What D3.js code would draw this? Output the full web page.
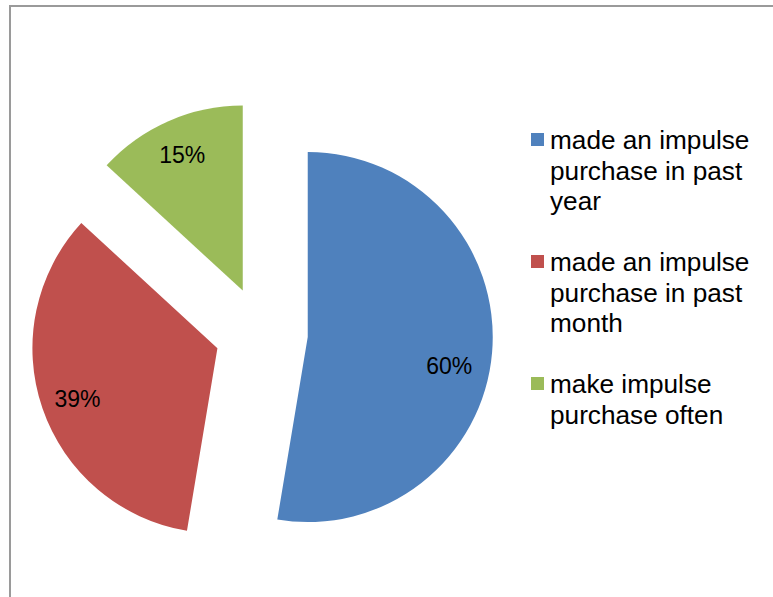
<!DOCTYPE html>
<html>
<head>
<meta charset="utf-8">
<script src="https://cdn.jsdelivr.net/npm/d3@7"></script>
<style>
html,body{margin:0;padding:0;background:#fff;}
svg{display:block;}
</style>
</head>
<body>
<svg id="chart" width="773" height="597"></svg>
<script>
// ---- data ----
const categories = [
  "made an impulse purchase in past year",
  "made an impulse purchase in past month",
  "make impulse purchase often"
];
const values = [60, 39, 15];
const valueLabels = ["60%", "39%", "15%"];
const colors = ["#4F81BD", "#C0504D", "#9BBB59"];

// ---- layout ----
const W = 773, H = 597;
const cx = 261.4, cy = 333.2, R = 185, explode = 46.5;
const labelR = 148;
const labelNudge = [[-6, 17], [0, 3], [-1, 0]];
const fontLegend = "Liberation Sans, Arial, sans-serif";
const fontLabel = "Liberation Sans, Arial, sans-serif";

const svg = d3.select("#chart");

// frame
svg.append("rect")
  .attr("x", 10).attr("y", 6)
  .attr("width", 800).attr("height", 700)
  .attr("fill", "none")
  .attr("stroke", "#9a9a9a")
  .attr("stroke-width", 2);

const pie = d3.pie().sort(null).value(d => d)(values);
const arc = d3.arc().innerRadius(0).outerRadius(R);

const g = svg.append("g").attr("transform", `translate(${cx},${cy})`);

pie.forEach((p, i) => {
  const mid = (p.startAngle + p.endAngle) / 2;
  const ox = explode * Math.sin(mid), oy = -explode * Math.cos(mid);
  const sg = g.append("g").attr("transform", `translate(${ox},${oy})`);
  sg.append("path").attr("d", arc(p)).attr("fill", colors[i]);
  const lx = labelR * Math.sin(mid) + labelNudge[i][0];
  const ly = -labelR * Math.cos(mid) + labelNudge[i][1];
  sg.append("text")
    .attr("x", lx).attr("y", ly)
    .attr("text-anchor", "middle")
    .attr("dominant-baseline", "central")
    .attr("font-family", fontLabel)
    .attr("font-size", 23)
    .attr("fill", "#000")
    .text(valueLabels[i]);
});

// legend
const legX = 531, textX = 550, firstBase = 149, lineH = 30.5, maxW = 218;
const leg = svg.append("g");
let base = firstBase;
categories.forEach((name, i) => {
  leg.append("rect")
    .attr("x", legX).attr("y", base - 16)
    .attr("width", 13).attr("height", 13)
    .attr("fill", colors[i]);
  const t = leg.append("text")
    .attr("font-family", fontLegend)
    .attr("font-size", 26.2)
    .attr("fill", "#000");
  const words = name.split(" ");
  let line = [];
  let lines = [];
  let ts = t.append("tspan").attr("x", textX).attr("y", base);
  words.forEach(w => {
    line.push(w);
    ts.text(line.join(" "));
    if (ts.node().getComputedTextLength() > maxW && line.length > 1) {
      line.pop();
      ts.text(line.join(" "));
      lines.push(ts);
      line = [w];
      ts = t.append("tspan").attr("x", textX).attr("y", base + lines.length * lineH).text(w);
    }
  });
  lines.push(ts);
  base += (lines.length + 1) * lineH;
});
</script>
</body>
</html>
